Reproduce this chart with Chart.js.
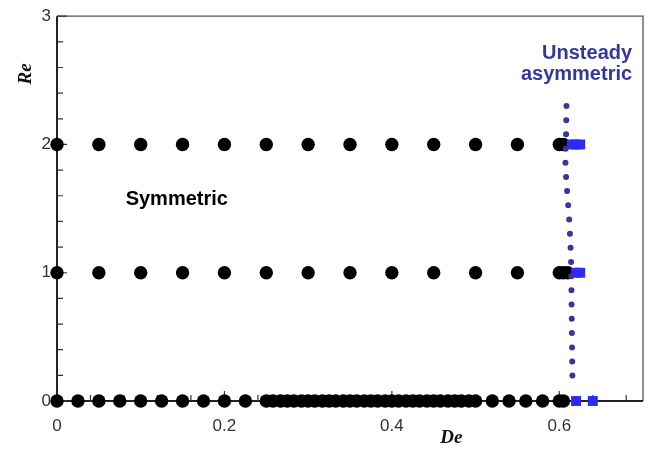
<!DOCTYPE html>
<html>
<head>
<meta charset="utf-8">
<script src="https://cdn.jsdelivr.net/npm/chart.js@4/dist/chart.umd.min.js"></script>
<style>
  html, body { margin: 0; padding: 0; background: #fff; }
  #wrap { width: 651px; height: 449px; }
</style>
</head>
<body>
<div id="wrap"><canvas id="c" width="651" height="449"></canvas></div>
<script>
// Steady symmetric solutions (De values) at each Reynolds number
const symDeRe0 = [0, 0.025, 0.05, 0.075, 0.1, 0.125, 0.15, 0.175, 0.2, 0.225,
  0.250, 0.258, 0.267, 0.275, 0.283, 0.292, 0.300, 0.308, 0.317, 0.325, 0.333,
  0.342, 0.350, 0.358, 0.367, 0.375, 0.383, 0.392, 0.400, 0.408, 0.417, 0.425,
  0.433, 0.442, 0.450, 0.458, 0.467, 0.475, 0.483, 0.492, 0.500,
  0.52, 0.54, 0.56, 0.58, 0.60, 0.605];
const symDeRe1 = [0, 0.05, 0.1, 0.15, 0.2, 0.25, 0.3, 0.35, 0.4, 0.45, 0.5, 0.55, 0.6, 0.605, 0.61];
const symDeRe2 = [0, 0.05, 0.1, 0.15, 0.2, 0.25, 0.3, 0.35, 0.4, 0.45, 0.5, 0.55, 0.6, 0.605];

// Unsteady asymmetric solutions (De values) at each Reynolds number
const unsDeRe0 = [0.62, 0.64];
const unsDeRe1 = [0.62, 0.625];
const unsDeRe2 = [0.615, 0.62, 0.625];

// Transition boundary between the two regimes
const boundaryDe = [0.6086, 0.6080, 0.6074, 0.6095, 0.6118, 0.6141, 0.6145, 0.6152, 0.6158];
const boundaryRe = [2.30, 2.05, 1.85, 1.62, 1.42, 1.08, 0.86, 0.45, 0.10];

// Axis ticks
const xTicks = [0, 0.2, 0.4, 0.6];
const yTicks = [0, 1, 2, 3];
const xMinorStep = 0.04;
const yMinorStep = 0.2;

const toPts = (xs, re) => xs.map(x => ({ x: x, y: re }));

const symPts = [].concat(toPts(symDeRe0, 0), toPts(symDeRe1, 1), toPts(symDeRe2, 2));
const unsPts = [].concat(toPts(unsDeRe0, 0), toPts(unsDeRe1, 1), toPts(unsDeRe2, 2));
const boundaryPts = boundaryDe.map((x, i) => ({ x: x, y: boundaryRe[i] }));

const NAVY = '#35379a';
const BLUE = '#2b2bf5';

// Axes box, inward tick marks and text labels
const framePlugin = {
  id: 'frame',
  beforeDatasetsDraw(chart) {
    const { ctx, chartArea: a, scales: { x, y } } = chart;
    ctx.save();
    // thin top and right border
    ctx.strokeStyle = '#555';
    ctx.lineWidth = 1.3;
    ctx.beginPath();
    ctx.moveTo(a.left, a.top);
    ctx.lineTo(a.right, a.top);
    ctx.lineTo(a.right, a.bottom);
    ctx.stroke();
    // heavier left and bottom axes
    ctx.strokeStyle = '#222';
    ctx.lineWidth = 2;
    ctx.beginPath();
    ctx.moveTo(a.left, a.top);
    ctx.lineTo(a.left, a.bottom);
    ctx.lineTo(a.right, a.bottom);
    ctx.stroke();
    // ticks
    ctx.lineWidth = 1.2;
    ctx.strokeStyle = '#333';
    ctx.beginPath();
    for (let v = 0; v <= x.max + 1e-9; v += xMinorStep) {
      const px = x.getPixelForValue(v);
      const major = xTicks.some(t => Math.abs(t - v) < 1e-6);
      ctx.moveTo(px, a.bottom);
      ctx.lineTo(px, a.bottom - (major ? 10 : 6));
    }
    for (let v = 0; v <= y.max + 1e-9; v += yMinorStep) {
      const py = y.getPixelForValue(v);
      const major = yTicks.some(t => Math.abs(t - v) < 1e-6);
      ctx.moveTo(a.left, py);
      ctx.lineTo(a.left + (major ? 10 : 6), py);
    }
    ctx.stroke();
    ctx.restore();
  },
  afterDatasetsDraw(chart) {
    const { ctx, chartArea: a, scales: { x, y } } = chart;
    ctx.save();
    // region labels
    ctx.font = 'bold 20px "Liberation Sans", Arial, sans-serif';
    ctx.fillStyle = '#000';
    ctx.textAlign = 'left';
    ctx.textBaseline = 'alphabetic';
    ctx.fillText('Symmetric', x.getPixelForValue(0.082), y.getPixelForValue(1.527));
    ctx.fillStyle = NAVY;
    ctx.textAlign = 'right';
    ctx.fillText('Unsteady', x.getPixelForValue(0.687), y.getPixelForValue(2.67));
    ctx.fillText('asymmetric', x.getPixelForValue(0.687), y.getPixelForValue(2.50));
    // axis titles
    ctx.fillStyle = '#111';
    ctx.font = 'italic bold 19px "Liberation Serif", "Times New Roman", serif';
    ctx.textAlign = 'center';
    ctx.textBaseline = 'middle';
    ctx.fillText('De', x.getPixelForValue(0.471), a.bottom + 37);
    ctx.translate(a.left - 31, y.getPixelForValue(2.55));
    ctx.rotate(-Math.PI / 2);
    ctx.fillText('Re', 0, 0);
    ctx.restore();
  }
};

new Chart(document.getElementById('c'), {
  type: 'scatter',
  data: {
    datasets: [
      {
        label: 'boundary',
        type: 'line',
        data: boundaryPts,
        showLine: true,
        borderColor: NAVY,
        borderWidth: 6,
        borderDash: [0, 14.2],
        borderCapStyle: 'round',
        pointRadius: 0,
        tension: 0.4,
        fill: false,
        clip: false,
        order: 0
      },
      {
        label: 'Unsteady asymmetric',
        data: unsPts,
        pointStyle: 'rect',
        pointRadius: 7,
        pointBackgroundColor: BLUE,
        pointBorderWidth: 0,
        clip: false,
        order: 1
      },
      {
        label: 'Symmetric',
        data: symPts,
        pointStyle: 'circle',
        pointRadius: 6.7,
        pointBackgroundColor: '#000',
        pointBorderWidth: 0,
        clip: false,
        order: 2
      }
    ]
  },
  options: {
    responsive: false,
    animation: false,
    events: [],
    layout: { padding: { top: 14, right: 8, left: 0, bottom: 0 } },
    plugins: { legend: { display: false }, tooltip: { enabled: false } },
    scales: {
      x: {
        type: 'linear',
        min: 0,
        max: 0.7,
        grid: { display: false, drawTicks: false },
        border: { display: false },
        afterBuildTicks: s => { s.ticks = xTicks.map(v => ({ value: v })); },
        afterFit: s => { s.height = 48; },
        ticks: {
          padding: 15,
          color: '#333',
          font: { family: '"Liberation Sans", Arial, sans-serif', size: 17 },
          callback: v => (v === 0 ? '0' : v.toFixed(1))
        }
      },
      y: {
        type: 'linear',
        min: 0,
        max: 3,
        grid: { display: false, drawTicks: false },
        border: { display: false },
        afterBuildTicks: s => { s.ticks = yTicks.map(v => ({ value: v })); },
        afterFit: s => { s.width = 57; },
        ticks: {
          padding: 6,
          color: '#333',
          font: { family: '"Liberation Sans", Arial, sans-serif', size: 17 },
          callback: v => String(v)
        }
      }
    }
  },
  plugins: [framePlugin]
});
</script>
</body>
</html>
